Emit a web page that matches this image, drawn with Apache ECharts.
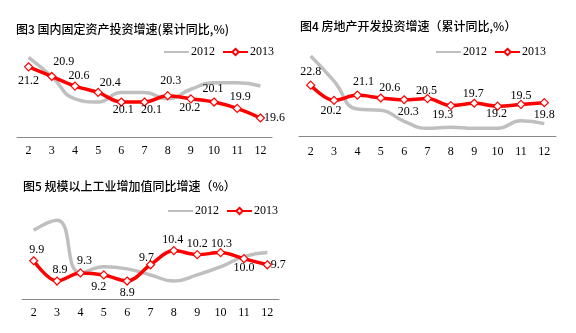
<!DOCTYPE html>
<html>
<head>
<meta charset="utf-8">
<script src="https://cdn.jsdelivr.net/npm/echarts@6/dist/echarts.min.js"></script>
<style>html,body{margin:0;padding:0;background:#fff;}#c{width:576px;height:333px;}</style>
</head>
<body>
<div id="c"></div>
<script>
const categories = ['2','3','4','5','6','7','8','9','10','11','12'];
const seriesNames = ['2012','2013'];
const titles = ['图3 国内固定资产投资增速(累计同比,%)', '图4 房地产开发投资增速（累计同比,%）', '图5 规模以上工业增加值同比增速（%）'];
const fai2012 = [21.5,20.9,20.2,20.1,20.4,20.4,20.2,20.5,20.7,20.7,20.6];
const fai2013 = [21.2,20.9,20.6,20.4,20.1,20.1,20.3,20.2,20.1,19.9,19.6];
const re2012 = [27.8,23.5,18.7,18.5,16.6,15.4,15.6,15.4,15.4,16.7,16.2];
const re2013 = [22.8,20.2,21.1,20.6,20.3,20.5,19.3,19.7,19.2,19.5,19.8];
const ind2012 = [11.4,11.9,9.3,9.6,9.5,9.2,8.9,9.2,9.6,10.1,10.3];
const ind2013 = [9.9,8.9,9.3,9.2,8.9,9.7,10.4,10.2,10.3,10.0,9.7];

// label placement (styling)
const faiOff = [[0,14],[12,-15],[4,-10],[12,-10],[2,8],[7,8],[3,-15],[-1,9],[-1,-13],[3,-12],[14,0]];
const reOff = [[0,-13],[-3,10],[6,-13],[9,-10],[4,12],[-1,-8],[-8,9],[-1,-9],[-1,8],[0,-9],[0,12]];
const indOff = [[3,-11],[3,-11],[4,-12],[-5,12],[0,12],[-4,-7],[-1,-11],[0,-11],[1,-9],[0,9],[11,0]];

const SERIF = "'Liberation Serif','Times New Roman',serif";
const CJK = "'Noto Sans CJK SC',sans-serif";
const GRAY = '#BFBFBF', RED = '#FF0000';

const panels = [
  {g:{left:17, width:255, top:41.3, height:95.9}, min:19, max:22, a:fai2012, b:fai2013, off:faiOff,
   title:{left:16, top:23}, legend:{left:163, top:46}, margin:8},
  {g:{left:299, width:257, top:43.2, height:93.3}, min:14, max:30, a:re2012, b:re2013, off:reOff,
   title:{left:300, top:20}, legend:{left:435, top:46}, margin:9},
  {g:{left:22, width:257, top:197.8, height:101.5}, min:8, max:13, a:ind2012, b:ind2013, off:indOff,
   title:{left:23, top:180}, legend:{left:167, top:205}, margin:8}
];

const option = {
  animation:false,
  backgroundColor:'#fff',
  title: panels.map((p,i)=>({text:titles[i], left:p.title.left, top:p.title.top, padding:0,
    textStyle:{fontFamily:CJK, fontSize:12, fontWeight:500, color:'#000'}})),
  legend: panels.map(p=>({
    data:[{name:seriesNames[0], itemStyle:{opacity:0}}, {name:seriesNames[1]}],
    left:p.legend.left, top:p.legend.top, padding:0,
    itemWidth:25, itemHeight:8, itemGap:7,
    textStyle:{fontFamily:SERIF, fontSize:12, color:'#000', padding:[0,0,0,-3]}})),
  grid: panels.map(p=>p.g),
  xAxis: panels.map((p,i)=>({type:'category', gridIndex:i, data:categories, boundaryGap:true,
    axisLine:{lineStyle:{color:'#888', width:1}},
    axisTick:{length:4, lineStyle:{color:'#888'}},
    axisLabel:{fontFamily:SERIF, fontSize:12, color:'#000', margin:p.margin}})),
  yAxis: panels.map((p,i)=>({type:'value', gridIndex:i, min:p.min, max:p.max,
    show:false, splitLine:{show:false}})),
  series: []
};

panels.forEach((p,i)=>{
  option.series.push({name:'2012', type:'line', xAxisIndex:i, yAxisIndex:i, data:p.a,
    smooth:0.5, showSymbol:false, symbol:'none', color:GRAY,
    lineStyle:{color:GRAY, width:3.5}, z:2});
  option.series.push({name:'2013', type:'line', xAxisIndex:i, yAxisIndex:i,
    data:p.b.map((v,k)=>({value:v, label:{offset:p.off[k]}})),
    smooth:0.35, symbol:'diamond', symbolSize:8, color:RED,
    lineStyle:{color:RED, width:3.5},
    itemStyle:{color:'#fff', borderColor:RED, borderWidth:1.2},
    label:{show:true, position:'inside', fontFamily:SERIF, fontSize:12, color:'#000',
      textBorderWidth:0, formatter:(o)=>Number(o.value).toFixed(1)},
    z:3});
});

const chart = echarts.init(document.getElementById('c'), null, {renderer:'canvas'});
chart.setOption(option);
</script>
</body>
</html>
